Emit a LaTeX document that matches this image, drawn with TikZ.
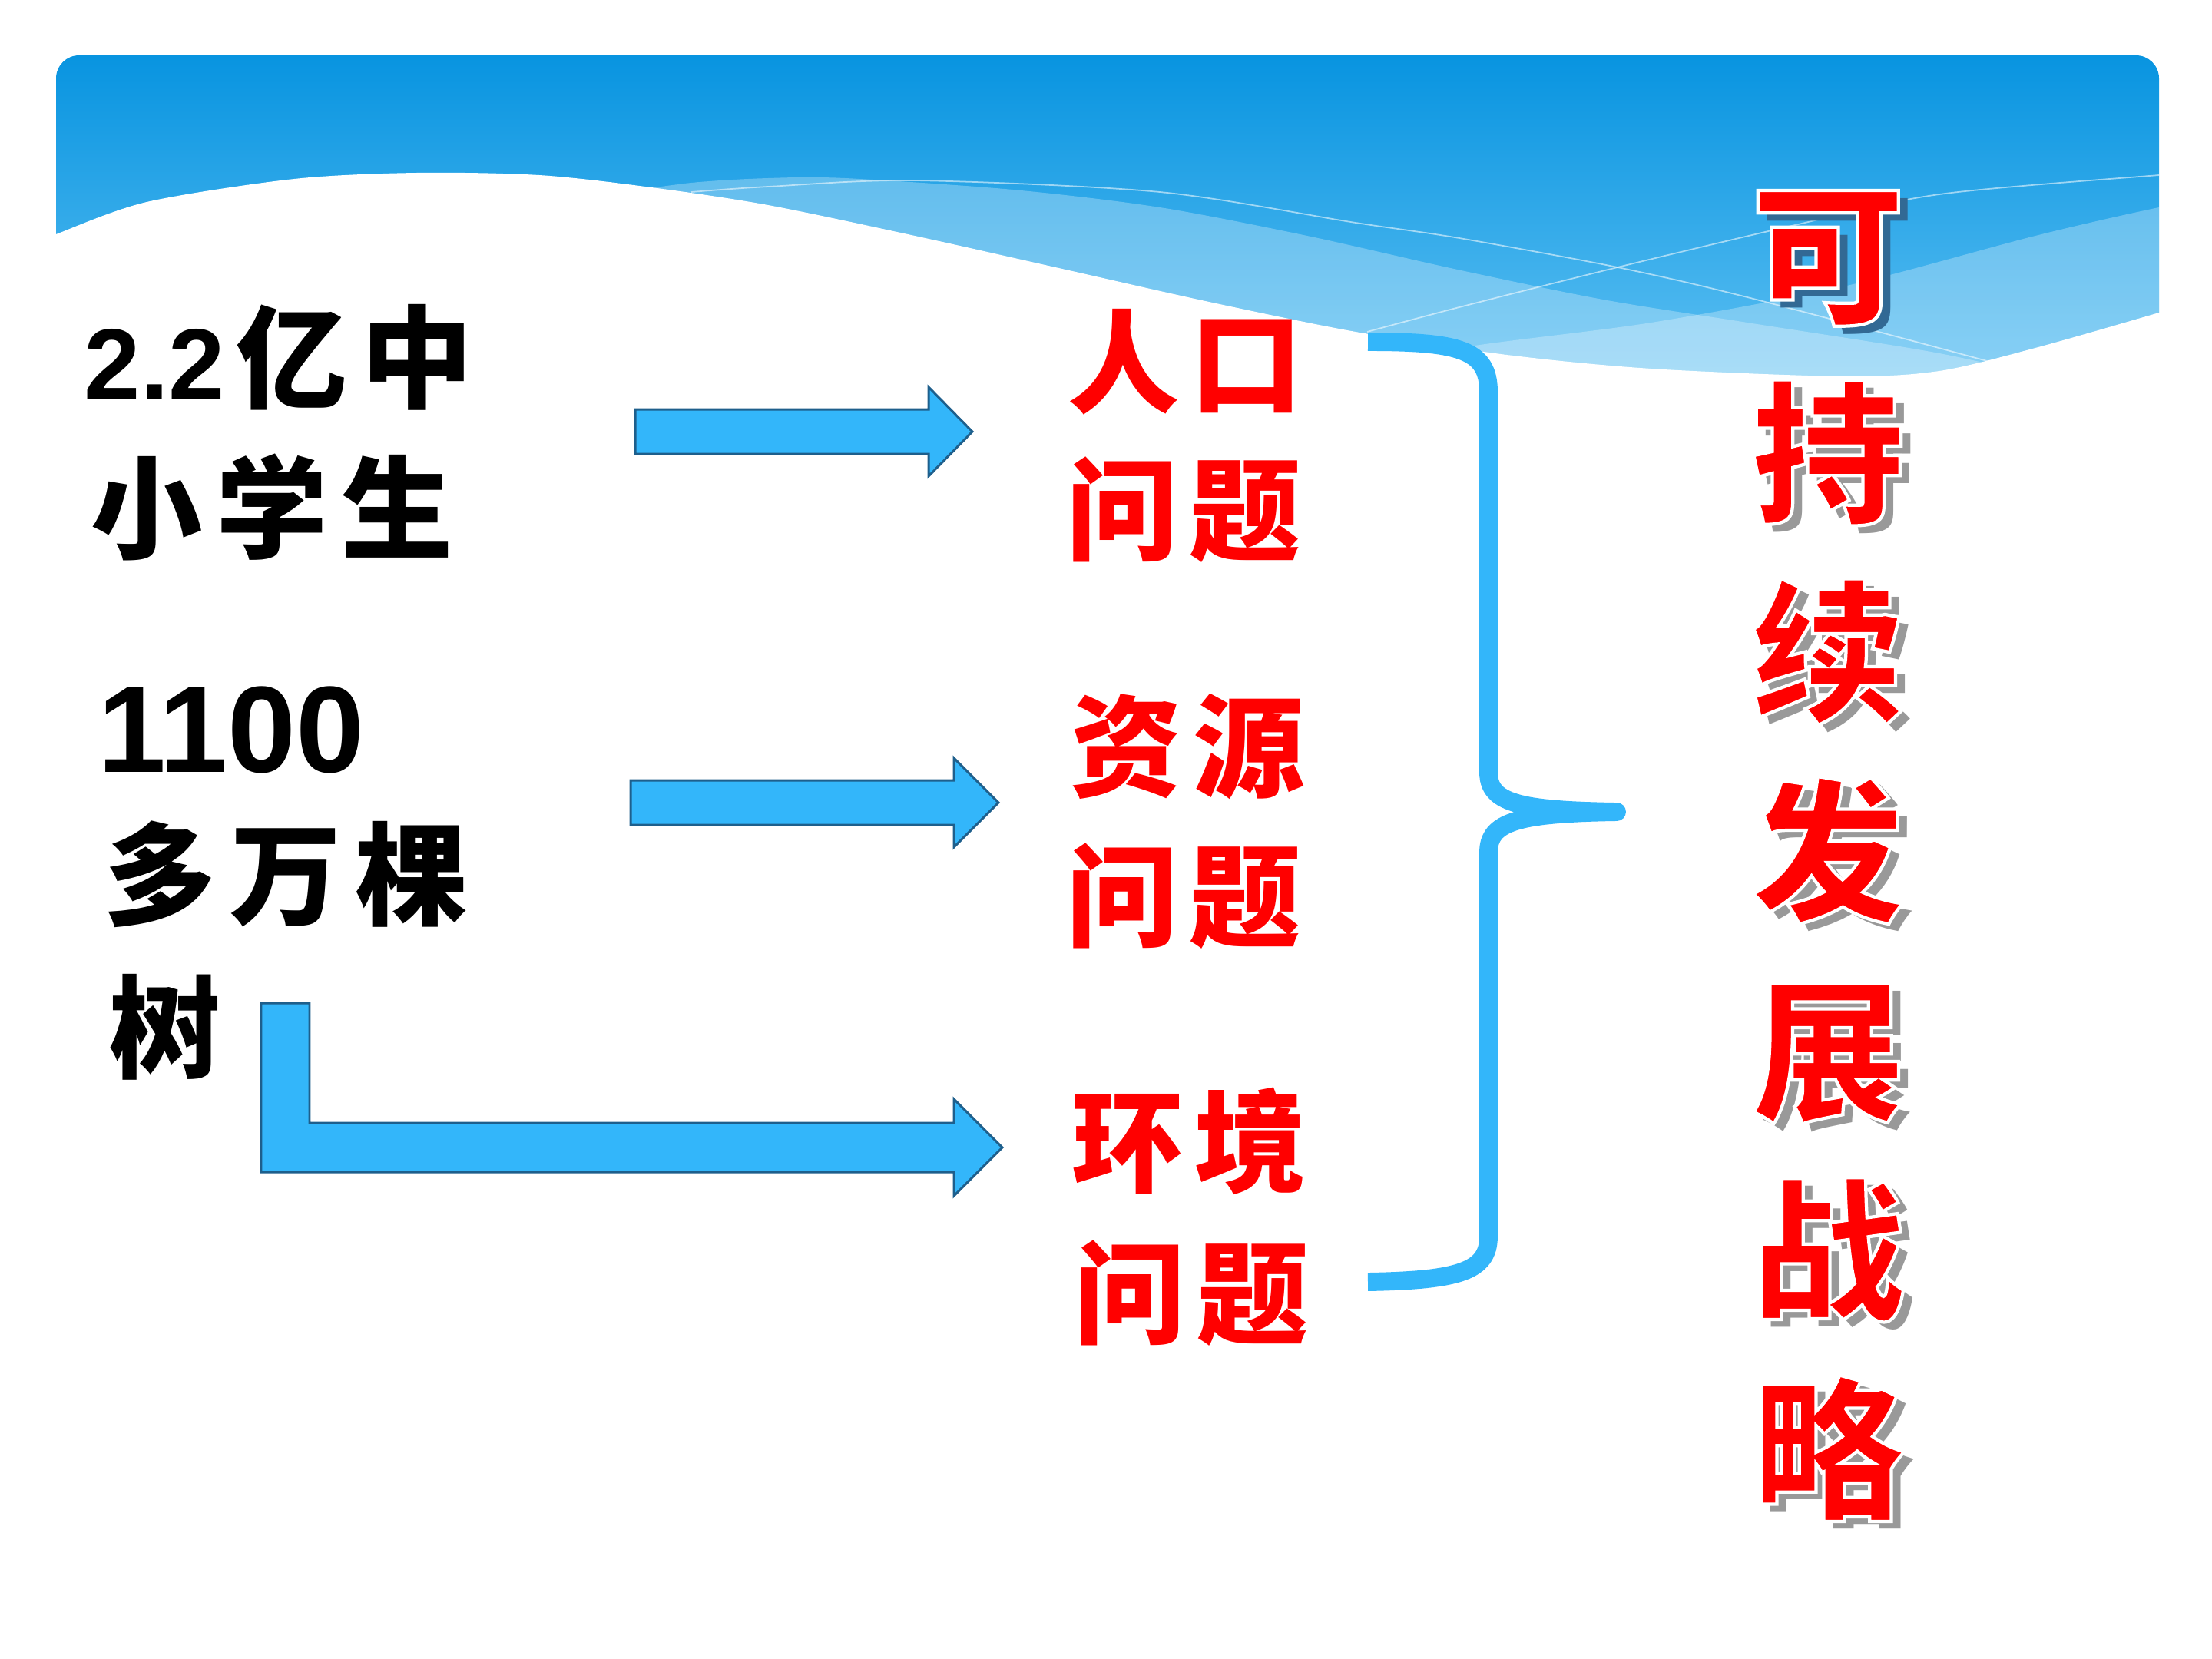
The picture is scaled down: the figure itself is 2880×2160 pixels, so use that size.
\documentclass[tikz,border=0pt]{standalone}
\usepackage{fontspec}
\newfontfamily\cjk{Noto Sans CJK SC}
\newfontfamily\libs{Liberation Sans}
\definecolor{hdrtop}{RGB}{8,148,224}
\definecolor{hdrbot}{RGB}{105,198,245}
\definecolor{abl}{RGB}{51,182,250}
\definecolor{adk}{RGB}{30,95,140}
\definecolor{shdb}{RGB}{50,105,148}
\definecolor{shdg}{RGB}{153,153,153}
\newcommand\gapL{\kern5.1pt}
\newcommand\gapR{\kern4.3pt}
% white outline drawn by the text rendering mode "fill then stroke"
\newcommand\outl[1]{\special{pdf:literal direct 2 Tr 1 1 1 RG 1.2 w}#1\special{pdf:literal direct 0 Tr}}
% grey drop shadow behind a character, then the outlined character
\newcommand\shchar[2]{\makebox[0pt][l]{\kern3.7pt\raisebox{-2.85pt}{\color{#2}#1}}\outl{#1}}
\tikzset{
  blk/.style={inner sep=0pt, outer sep=0pt, anchor=base west, text=black,
    font=\cjk\bfseries\fontsize{41.3}{48}\selectfont},
  redtxt/.style={inner sep=0pt, outer sep=0pt, anchor=base west, text=red,
    font=\cjk\bfseries\fontsize{41.3}{48}\selectfont},
  bigc/.style={inner sep=0pt, outer sep=0pt, anchor=base,
    font=\cjk\bfseries\fontsize{56.9}{60}\selectfont},
  barrow/.style={fill=abl, draw=adk, line width=0.85pt, line join=miter},
  thinw/.style={white, opacity=0.55, line width=0.5pt},
  band/.style={white, opacity=0.28},
}
\begin{document}
\begin{tikzpicture}[x=0.01cm,y=-0.01cm]
\useasboundingbox (0,0) rectangle (2880,2160);
\fill[white] (0,0) rectangle (2880,2160);
% header
\shade[top color=hdrtop, bottom color=hdrbot, rounded corners=0.3cm]
  (73,560) -- (73,72) -- (2811,72) -- (2811,560) -- cycle;
\begin{scope}
  \clip (73,72) rectangle (2811,560);
  \fill[band] plot[smooth] coordinates {(800,252)(900,238)(1000,232)(1100,232)(1319,247)(1510,270)(1702,307)(1893,350)(2087,390)(2275,420)(2525,460)(2700,500)} -- (2700,600) -- (800,600) -- cycle;
  \fill[band] plot[smooth] coordinates {(1650,500)(1900,453)(2150,420)(2400,373)(2650,307)(2811,270)(2900,255)} -- (2900,600) -- (1650,600) -- cycle;
  \draw[thinw] plot[smooth] coordinates {(900,250)(1000,243)(1191,235)(1510,250)(1765,290)(1900,310)(2106,348)(2275,387)(2587,470)(2650,490)};
  \draw[thinw] plot[smooth] coordinates {(1780,432)(1900,400)(2106,348)(2337,293)(2525,253)(2811,228)(2900,222)};
\end{scope}
\fill[white] plot[smooth] coordinates {(60,312)(73,305)(191,263)(383,233)(542,225)(702,228)(848,244)(1000,267)(1191,307)(1383,350)(1574,393)(1765,432)(1962,462)(2150,480)(2400,490)(2525,483)(2650,453)(2811,407)(2830,400)} -- (2830,580) -- (60,580) -- cycle;

% left black text
\node[blk] (l1) at (110,520) {{\libs\bfseries\fontsize{37.5}{42}\selectfont 2.2}\kern4pt 亿\gapL 中};
\node[blk] (l2) at (118,716) {小\gapL 学\gapL 生};
\node[blk] (l3) at (127,1005) {{\libs\bfseries\fontsize{45.5}{50}\selectfont 1100}};
\node[blk] (l4) at (136,1193) {多\gapL 万\gapL 棵};
\node[blk] (l5) at (142,1392) {树};

% red text
\node[redtxt] (r1) at (1390,526) {人\gapR 口};
\node[redtxt] (r2) at (1388,718) {问\gapR 题};
\node[redtxt] (r3) at (1393,1026) {资\gapR 源};
\node[redtxt] (r4) at (1388,1221) {问\gapR 题};
\node[redtxt] (r5) at (1395,1541) {环\gapR 境};
\node[redtxt] (r6) at (1398,1738) {问\gapR 题};

% block arrows
\draw[barrow] (827,533) -- (1209,533) -- (1209,504) -- (1266,562) -- (1209,620) -- (1209,591) -- (827,591) -- cycle;
\draw[barrow] (821,1016) -- (1242,1016) -- (1242,987) -- (1300,1045) -- (1242,1103) -- (1242,1074) -- (821,1074) -- cycle;
\draw[barrow] (340,1306) -- (403,1306) -- (403,1462) -- (1242,1462) -- (1242,1431) -- (1305,1494) -- (1242,1557) -- (1242,1526) -- (340,1526) -- cycle;

% brace
\draw[abl, line width=6.8pt, line join=round]
  (1781,445) .. controls (1900,445) and (1938,455) .. (1938,510)
  -- (1938,1005) .. controls (1938,1045) and (1975,1055) .. (2105,1057)
  .. controls (1975,1059) and (1938,1070) .. (1938,1110)
  -- (1938,1610) .. controls (1938,1655) and (1900,1667) .. (1781,1669);

% vertical title: red characters with white outline and drop shadow
\foreach \c/\sc [count=\i] in {可/shdb,持/shdg,续/shdg,发/shdg,展/shdg,战/shdg,略/shdg} {
  \pgfmathsetmacro\yy{406+(\i-1)*259.3}
  \node[bigc, text=red] (v\i) at (2380,\yy) {\shchar{\c}{\sc}};
}
\end{tikzpicture}
\end{document}
